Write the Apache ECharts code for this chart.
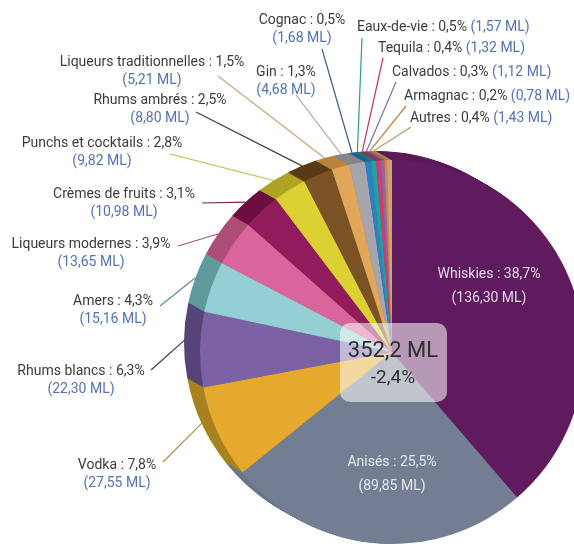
<!DOCTYPE html>
<html>
<head>
<meta charset="utf-8">
<script src="https://cdn.jsdelivr.net/npm/echarts@6/dist/echarts.min.js"></script>
<style>
  html, body { margin: 0; padding: 0; background: #ffffff; }
  #chart { width: 574px; height: 555px; }
</style>
</head>
<body>
<div id="chart"></div>
<script>
// Spirits market, volume by category (millions of litres) and share of total
const categories = ['Whiskies', 'Anisés', 'Vodka', 'Rhums blancs', 'Amers', 'Liqueurs modernes',
  'Crèmes de fruits', 'Punchs et cocktails', 'Rhums ambrés', 'Liqueurs traditionnelles', 'Gin',
  'Cognac', 'Eaux-de-vie', 'Tequila', 'Calvados', 'Armagnac', 'Autres'];
const volumes = [136.30, 89.85, 27.55, 22.30, 15.16, 13.65, 10.98, 9.82, 8.80, 5.21, 4.68,
  1.68, 1.57, 1.32, 1.12, 0.78, 1.43];
const shares = [38.7, 25.5, 7.8, 6.3, 4.3, 3.9, 3.1, 2.8, 2.5, 1.5, 1.3, 0.5, 0.5, 0.4, 0.3, 0.2, 0.4];
const totalChange = -2.4;

// Slice colours: top face, side wall, leader line
const faceColors = ['#5f1b5d', '#737e93', '#e5aa2d', '#7b62a5', '#94cfd3', '#da659c', '#921c5b',
  '#ddd032', '#7b5224', '#e2a65b', '#a5a5ab', '#2f80c2', '#21a2a0', '#cf3d6c', '#8868ac', '#e0813c', '#c9a878'];
const sideColors = ['#5c1a5a', '#6a7588', '#a8821f', '#574479', '#5f9a9d', '#ad4d78', '#6e0d42',
  '#aea323', '#5a3a16', '#b98440', '#85858b', '#225f93', '#177a78', '#a02a50', '#664d85', '#b0632b', '#a0845a'];
const leaderColors = ['#5f1b5d', '#737e93', '#b58a4b', '#3b3763', '#5d8f95', '#a65778', '#7d2352',
  '#b9c23f', '#4f3a2a', '#c9a77a', '#a9a9a9', '#3f5f86', '#2a9d8f', '#c9305c', '#7074a8', '#c77a3a', '#b89a6a'];

const FONT = "Roboto, 'Liberation Sans', sans-serif";
const CX = 392, CY = 352, R = 192;          // front face of the disc
const DEPTH_X = -16, DEPTH_Y = -9, LAYERS = 16; // extrusion towards the back

// Where each caption sits: block anchor, alignment, and where its leader starts
const placement = {
  'Whiskies':                 { x: 489, y: 262, align: 'center', inner: true },
  'Anisés':                   { x: 392, y: 450, align: 'center', inner: true },
  'Vodka':                    { x: 117, y: 456, align: 'center', from: [163, 462] },
  'Rhums blancs':             { x: 81,  y: 362, align: 'center', from: [151, 370] },
  'Amers':                    { x: 113, y: 292, align: 'center', from: [160, 306] },
  'Liqueurs modernes':        { x: 91,  y: 235, align: 'center', from: [178, 246] },
  'Crèmes de fruits':         { x: 124, y: 185, align: 'center', from: [202, 203] },
  'Punchs et cocktails':      { x: 102, y: 134, align: 'center', from: [170, 154] },
  'Rhums ambrés':             { x: 160, y: 91,  align: 'center', from: [196, 112] },
  'Liqueurs traditionnelles': { x: 152, y: 53,  align: 'center', from: [218, 76] },
  'Gin':                      { x: 286, y: 63,  align: 'center', from: [296, 95] },
  'Cognac':                   { x: 302, y: 11,  align: 'center', from: [322, 49] },
  'Eaux-de-vie':              { x: 357, y: 18,  align: 'left', oneLine: true, from: [362, 38] },
  'Tequila':                  { x: 378, y: 39,  align: 'left', oneLine: true, from: [383, 58] },
  'Calvados':                 { x: 392, y: 63,  align: 'left', oneLine: true, from: [396, 82] },
  'Armagnac':                 { x: 404, y: 87,  align: 'left', oneLine: true, from: [406, 106] },
  'Autres':                   { x: 410, y: 109, align: 'left', oneLine: true, from: [411, 127] }
};

const fr = (v, d) => v.toFixed(d).replace('.', ',');
const total = volumes.reduce((a, b) => a + b, 0);

// mid angle of each slice, clockwise from 12 o'clock
const midAngles = [];
let acc = 0;
volumes.forEach(v => { midAngles.push((acc + v / 2) / total * 2 * Math.PI); acc += v; });

function captionText(i) {
  const p = placement[categories[i]];
  const head = categories[i] + ' : ' + fr(shares[i], 1) + '%';
  const val = '(' + fr(volumes[i], 2) + ' ML)';
  if (p.inner) return '{w|' + head + '}\n{w|' + val + '}';
  if (p.oneLine) return '{n|' + head + '} {v|' + val + '}';
  return '{n|' + head + '}\n{v|' + val + '}';
}

const wallData = categories.map((name, i) => ({
  name, value: volumes[i], itemStyle: { color: sideColors[i] }
}));

const series = [];
for (let k = LAYERS; k >= 1; k--) {
  series.push({
    type: 'pie', silent: true, animation: false,
    startAngle: 90, clockwise: true,
    center: [CX + DEPTH_X * k / LAYERS, CY + DEPTH_Y * k / LAYERS],
    radius: R,
    label: { show: false }, labelLine: { show: false },
    itemStyle: { borderWidth: 0 },
    data: wallData
  });
}

series.push({
  type: 'pie', animation: false, silent: true,
  startAngle: 90, clockwise: true,
  center: [CX, CY], radius: R,
  avoidLabelOverlap: false,
  itemStyle: { borderWidth: 0 },
  label: {
    show: true, position: 'outside',
    fontFamily: FONT, fontSize: 14, color: '#3b3b3b', lineHeight: 18,
    formatter: p => captionText(p.dataIndex),
    rich: {
      n: { fontFamily: FONT, fontSize: 14, color: '#3b3b3b', lineHeight: 18 },
      v: { fontFamily: FONT, fontSize: 14, color: '#5471b6', lineHeight: 18 },
      w: { fontFamily: FONT, fontSize: 14, color: '#e3d5ea', lineHeight: 24 }
    }
  },
  labelLine: { show: true, length: 10, length2: 0, lineStyle: { width: 1.2 } },
  labelLayout: params => {
    const i = params.dataIndex;
    const p = placement[categories[i]];
    const out = { x: p.x, y: p.y, align: p.align, verticalAlign: 'top' };
    if (!p.inner) {
      const a = midAngles[i];
      const end = [CX + DEPTH_X + R * Math.sin(a), CY + DEPTH_Y - R * Math.cos(a)];
      out.labelLinePoints = [end, p.from.slice(), p.from.slice()];
    }
    return out;
  },
  data: categories.map((name, i) => {
    const p = placement[name];
    const item = {
      name, value: volumes[i],
      itemStyle: { color: faceColors[i] },
      labelLine: { show: !p.inner, lineStyle: { color: leaderColors[i], width: 1.2 } }
    };
    if (name === 'Anisés') item.label = { rich: { w: { fontFamily: FONT, fontSize: 14, color: '#e6e9ef', lineHeight: 24 } } };
    return item;
  })
});

const chart = echarts.init(document.getElementById('chart'), null, { renderer: 'canvas' });
chart.setOption({
  backgroundColor: '#ffffff',
  animation: false,
  series,
  graphic: [
    {
      type: 'rect', z: 100,
      x: CX - 52, y: CY - 29,
      shape: { width: 107, height: 79, r: 10 },
      style: { fill: 'rgba(255,255,255,0.55)' }
    },
    {
      type: 'text', z: 101,
      x: CX + 1, y: CY - 1,
      style: { text: fr(total, 1) + ' ML', font: "22px " + FONT, fill: '#2e2e2e', align: 'center', verticalAlign: 'middle' }
    },
    {
      type: 'text', z: 101,
      x: CX + 1, y: CY + 26,
      style: { text: fr(totalChange, 1) + '%', font: "19px " + FONT, fill: '#2e2e2e', align: 'center', verticalAlign: 'middle' }
    }
  ]
});
</script>
</body>
</html>
